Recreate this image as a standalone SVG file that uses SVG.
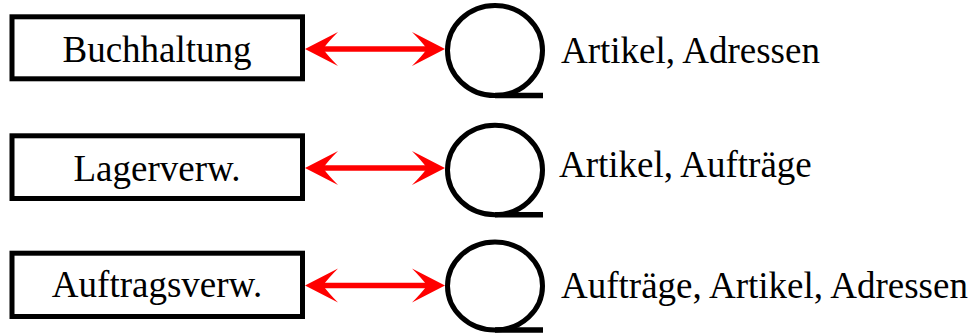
<svg xmlns="http://www.w3.org/2000/svg" xmlns:xlink="http://www.w3.org/1999/xlink" width="970" height="334" viewBox="0 0 970 334">
  <style>
    .box { fill: #ffffff; stroke: #000000; stroke-width: 5; }
    .store { fill: #ffffff; stroke: #000000; stroke-width: 5; }
    .tail { stroke: #000000; stroke-width: 5.5; fill: none; }
    .link { stroke: #ff0000; stroke-width: 5.5; fill: none; }
    .head { fill: #ff0000; }
    .label { font-family: "Liberation Serif", "Times New Roman", serif; font-size: 37px; fill: #000000; }
    .mid { text-anchor: middle; }
  </style>
  <defs>
    <!-- notched arrowhead, tip at origin, pointing left -->
    <path id="head" class="head" d="M0,0 L33,-17 Q23,-7 18,0 Q23,7 33,17 Z"/>
  </defs>

  <!-- connectors -->
  <g id="connectors">
    <line class="link" x1="320" y1="49" x2="430" y2="49"/>
    <use xlink:href="#head" transform="translate(305,49)"/>
    <use xlink:href="#head" transform="translate(445,49) scale(-1,1)"/>

    <line class="link" x1="320" y1="168" x2="430" y2="168"/>
    <use xlink:href="#head" transform="translate(305,168)"/>
    <use xlink:href="#head" transform="translate(445,168) scale(-1,1)"/>

    <line class="link" x1="320" y1="285.5" x2="430" y2="285.5"/>
    <use xlink:href="#head" transform="translate(305,285.5)"/>
    <use xlink:href="#head" transform="translate(445,285.5) scale(-1,1)"/>
  </g>

  <!-- processes -->
  <g id="buchhaltung">
    <rect class="box" x="12" y="16.8" width="290.5" height="62"/>
    <text class="label mid" x="157" y="62">Buchhaltung</text>
  </g>
  <g id="lagerverw">
    <rect class="box" x="12" y="135.8" width="290.5" height="62.7"/>
    <text class="label mid" x="157" y="181">Lagerverw.</text>
  </g>
  <g id="auftragsverw">
    <rect class="box" x="12" y="253.2" width="290.5" height="63.3"/>
    <text class="label mid" x="157" y="296.7">Auftragsverw.</text>
  </g>

  <!-- data stores -->
  <g id="store-1">
    <ellipse class="store" cx="495" cy="50.5" rx="47.5" ry="45"/>
    <line class="tail" x1="495" y1="95.5" x2="543" y2="95.5"/>
    <text class="label" x="561" y="62.7">Artikel, Adressen</text>
  </g>
  <g id="store-2">
    <ellipse class="store" cx="495" cy="170" rx="47.5" ry="44.8"/>
    <line class="tail" x1="495" y1="214.8" x2="543" y2="214.8"/>
    <text class="label" x="559" y="177">Artikel, Aufträge</text>
  </g>
  <g id="store-3">
    <ellipse class="store" cx="495" cy="286" rx="47.5" ry="44"/>
    <line class="tail" x1="495" y1="330" x2="543" y2="330"/>
    <text class="label" x="561" y="298.3">Aufträge, Artikel, Adressen</text>
  </g>
</svg>
